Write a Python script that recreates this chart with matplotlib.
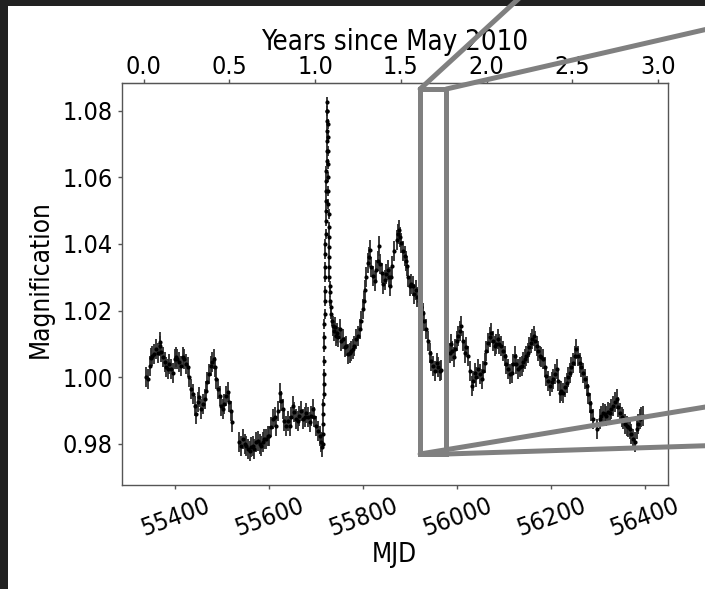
import numpy as np
import matplotlib
matplotlib.use("Agg")
import matplotlib.pyplot as plt
from matplotlib.patches import Rectangle, ConnectionPatch

# ---- data ----
# segment 1: first season (before the seasonal gap)
mjd_s1 = [55338, 55341, 55345, 55348, 55351, 55355, 55359, 55362, 55366, 55368,
          55370, 55373, 55377, 55380, 55383, 55387, 55391, 55394, 55398, 55401,
          55404, 55408, 55412, 55415, 55419, 55422, 55426, 55429, 55433, 55437,
          55441, 55444, 55447, 55451, 55455, 55458, 55462, 55465, 55468, 55472,
          55476, 55478, 55481, 55484, 55487, 55490, 55494, 55497, 55501, 55504,
          55508, 55511, 55515, 55518, 55521]
mag_s1 = [1.0000, 0.9995, 1.0034, 1.0058, 1.0064, 1.0070, 1.0084, 1.0072, 1.0105, 1.0095,
          1.0075, 1.0060, 1.0045, 1.0030, 1.0024, 1.0040, 1.0024, 1.0012, 1.0054, 1.0060,
          1.0054, 1.0045, 1.0034, 1.0060, 1.0054, 1.0040, 1.0030, 1.0000, 0.9964, 0.9950,
          0.9914, 0.9890, 0.9925, 0.9940, 0.9904, 0.9920, 0.9934, 0.9960, 0.9985, 1.0010,
          1.0034, 1.0045, 1.0054, 1.0030, 0.9994, 0.9965, 0.9944, 0.9915, 0.9904, 0.9920,
          0.9944, 0.9955, 0.9925, 0.9900, 0.9865]
# segment 2: low plateau up to the spike
mjd_s2 = [55536, 55539, 55543, 55547, 55551, 55554, 55558, 55561, 55565, 55568,
          55572, 55575, 55579, 55582, 55586, 55589, 55593, 55596, 55600, 55604,
          55607, 55611, 55615, 55618, 55622, 55625, 55629, 55632, 55636, 55639,
          55643, 55646, 55650, 55653, 55657, 55660, 55664, 55667, 55671, 55675,
          55679, 55682, 55686, 55689, 55693, 55696, 55700, 55703, 55707, 55710,
          55712]
mag_s2 = [0.9805, 0.9795, 0.9814, 0.9800, 0.9794, 0.9785, 0.9779, 0.9790, 0.9794, 0.9785,
          0.9805, 0.9810, 0.9800, 0.9795, 0.9805, 0.9815, 0.9814, 0.9825, 0.9824, 0.9850,
          0.9874, 0.9880, 0.9854, 0.9900, 0.9954, 0.9930, 0.9904, 0.9870, 0.9854, 0.9870,
          0.9854, 0.9880, 0.9914, 0.9895, 0.9874, 0.9870, 0.9884, 0.9900, 0.9874, 0.9880,
          0.9894, 0.9880, 0.9865, 0.9885, 0.9904, 0.9880, 0.9854, 0.9840, 0.9824, 0.9805,
          0.9790]
# segment 3: the spike (densely sampled, small errors)
mjd_spike = [55714.0, 55714.3, 55714.6, 55714.9, 55715.2, 55715.5, 55715.8, 55716.1, 55716.4, 55716.7,
             55717.0, 55717.3, 55717.6, 55717.9, 55718.2, 55718.5, 55718.8, 55719.1, 55719.4, 55719.7,
             55720.0, 55720.3, 55720.6, 55720.9, 55721.2, 55721.5, 55721.8, 55722.1, 55722.4, 55722.7,
             55723.0, 55723.2, 55723.4, 55723.7, 55724.0, 55724.3, 55724.6, 55724.9, 55725.2, 55725.5,
             55725.8, 55726.1, 55726.4, 55726.7, 55727.0, 55727.3, 55727.6, 55728.0, 55728.5, 55729.0,
             55730.0, 55731.0, 55732.0, 55733.5]
mag_spike = [0.9800, 0.9830, 0.9860, 0.9890, 0.9920, 0.9950, 0.9980, 1.0010, 1.0050, 1.0090,
             1.0120, 1.0160, 1.0190, 1.0230, 1.0260, 1.0300, 1.0330, 1.0370, 1.0400, 1.0430,
             1.0470, 1.0500, 1.0530, 1.0560, 1.0590, 1.0620, 1.0650, 1.0680, 1.0710, 1.0740,
             1.0770, 1.0800, 1.0826, 1.0800, 1.0760, 1.0720, 1.0680, 1.0640, 1.0600, 1.0560,
             1.0520, 1.0490, 1.0450, 1.0420, 1.0390, 1.0360, 1.0330, 1.0300, 1.0275, 1.0255,
             1.0230, 1.0210, 1.0190, 1.0170]
# segment 4: post-spike dip, second bump and decline
mjd_s4 = [55735, 55737, 55739, 55741, 55743, 55746, 55750, 55753, 55757, 55760,
          55764, 55767, 55771, 55774, 55778, 55781, 55785, 55788, 55792, 55795,
          55799, 55801, 55803, 55806, 55810, 55812, 55814, 55817, 55821, 55824,
          55828, 55831, 55834, 55836, 55839, 55842, 55846, 55849, 55853, 55855,
          55856, 55859, 55862, 55866, 55871, 55873, 55876, 55878, 55881, 55884,
          55888, 55890, 55893, 55896, 55899, 55902, 55906, 55909, 55912, 55915,
          55919, 55923, 55927, 55930, 55934, 55938, 55942, 55945, 55949, 55952,
          55956, 55959, 55963, 55966]
mag_s4 = [1.0154, 1.0140, 1.0150, 1.0125, 1.0134, 1.0120, 1.0144, 1.0110, 1.0114, 1.0090,
          1.0094, 1.0070, 1.0074, 1.0080, 1.0084, 1.0095, 1.0114, 1.0125, 1.0144, 1.0170,
          1.0204, 1.0230, 1.0263, 1.0300, 1.0343, 1.0360, 1.0383, 1.0330, 1.0303, 1.0290,
          1.0323, 1.0350, 1.0393, 1.0340, 1.0313, 1.0280, 1.0293, 1.0310, 1.0323, 1.0300,
          1.0273, 1.0300, 1.0333, 1.0380, 1.0413, 1.0430, 1.0443, 1.0420, 1.0403, 1.0380,
          1.0363, 1.0350, 1.0333, 1.0300, 1.0273, 1.0280, 1.0273, 1.0250, 1.0263, 1.0240,
          1.0230, 1.0210, 1.0194, 1.0170, 1.0144, 1.0110, 1.0074, 1.0050, 1.0034, 1.0020,
          1.0044, 1.0030, 1.0019, 1.0022]
# segment 5: last season
mjd_s5 = [55984, 55987, 55990, 55993, 55996, 55999, 56002, 56005, 56009, 56012,
          56016, 56019, 56023, 56027, 56031, 56034, 56038, 56041, 56045, 56048,
          56052, 56055, 56059, 56062, 56066, 56069, 56073, 56076, 56080, 56083,
          56087, 56090, 56094, 56098, 56102, 56105, 56109, 56112, 56116, 56119,
          56123, 56126, 56130, 56133, 56137, 56140, 56144, 56147, 56151, 56154,
          56158, 56160, 56163, 56166, 56169, 56172, 56176, 56179, 56183, 56186,
          56190, 56193, 56197, 56201, 56205, 56208, 56212, 56215, 56219, 56222,
          56226, 56229, 56233, 56236, 56240, 56243, 56247, 56250, 56254, 56257,
          56261, 56264, 56268, 56272, 56276, 56279, 56283, 56286, 56290, 56297,
          56304, 56307, 56311, 56314, 56318, 56321, 56325, 56328, 56332, 56336,
          56340, 56343, 56347, 56350, 56354, 56357, 56361, 56364, 56368, 56371,
          56375, 56378, 56382, 56385, 56389, 56392, 56396]
mag_s5 = [1.0074, 1.0100, 1.0080, 1.0060, 1.0084, 1.0110, 1.0124, 1.0140, 1.0154, 1.0110,
          1.0074, 1.0090, 1.0064, 1.0020, 0.9974, 0.9990, 1.0014, 1.0000, 1.0024, 1.0010,
          0.9994, 1.0020, 1.0044, 1.0080, 1.0104, 1.0120, 1.0134, 1.0110, 1.0094, 1.0100,
          1.0114, 1.0100, 1.0094, 1.0080, 1.0064, 1.0040, 1.0024, 1.0010, 1.0014, 1.0040,
          1.0064, 1.0040, 1.0024, 1.0030, 1.0034, 1.0045, 1.0054, 1.0065, 1.0074, 1.0090,
          1.0104, 1.0115, 1.0124, 1.0110, 1.0094, 1.0080, 1.0064, 1.0060, 1.0054, 1.0030,
          1.0004, 0.9990, 0.9974, 0.9985, 0.9994, 1.0010, 1.0024, 0.9990, 0.9954, 0.9960,
          0.9954, 0.9970, 0.9984, 1.0000, 1.0014, 1.0030, 1.0044, 1.0065, 1.0084, 1.0065,
          1.0044, 1.0030, 1.0014, 0.9995, 0.9974, 0.9950, 0.9924, 0.9900, 0.9874, 0.9844,
          0.9874, 0.9885, 0.9894, 0.9890, 0.9884, 0.9895, 0.9894, 0.9905, 0.9914, 0.9925,
          0.9934, 0.9910, 0.9894, 0.9880, 0.9874, 0.9860, 0.9854, 0.9850, 0.9844, 0.9830,
          0.9814, 0.9805, 0.9844, 0.9860, 0.9874, 0.9880, 0.9884]

error = 0.003            # typical 1-sigma error bar
spike_error = 0.0015     # smaller error bars on the spike

mjd_ticks = [55400, 55600, 55800, 56000, 56200, 56400]
year_ticks = [0.0, 0.5, 1.0, 1.5, 2.0, 2.5, 3.0]
mag_ticks = [0.98, 1.00, 1.02, 1.04, 1.06, 1.08]
mjd_start = 55332        # "May 2010" reference epoch
zoom_box = (55921, 55977, 0.977, 1.0865)   # x0, x1, y0, y1

# ---- figure ----
W, H = 705, 589
TICK_FONT = dict(family="DejaVu Sans", stretch="condensed", size=18)
LABEL_FONT = dict(family="DejaVu Sans", stretch="condensed", size=18.8)
TITLE_FONT = dict(family="DejaVu Sans", stretch="condensed", size=19.8)
plt.rcParams["font.family"] = "DejaVu Sans"
plt.rcParams["font.stretch"] = "condensed"

fig = plt.figure(figsize=(W / 100, H / 100), dpi=100)
fig.patch.set_facecolor("white")
AX_L, AX_R, AX_T, AX_B = 121.5, 668, 83, 485
ax = fig.add_axes([AX_L / W, 1 - AX_B / H, (AX_R - AX_L) / W, (AX_B - AX_T) / H])

def ax_frac_x(px):
    return (px - AX_L) / (AX_R - AX_L)

def ax_frac_y(py):
    return (AX_B - py) / (AX_B - AX_T)

normal_x = np.array(mjd_s1 + mjd_s2 + mjd_s4 + mjd_s5, dtype=float)
normal_y = np.array(mag_s1 + mag_s2 + mag_s4 + mag_s5)
ax.errorbar(normal_x, normal_y, yerr=error, fmt="o", ms=2.0, color="black",
            ecolor="#2b2b2b", elinewidth=1.3, capsize=0, zorder=3)
ax.errorbar(mjd_spike, mag_spike, yerr=spike_error, fmt="o", ms=2.0, color="black",
            ecolor="#2b2b2b", elinewidth=1.3, capsize=0, zorder=3)

ax.set_xlim(55285, 56449)
ax.set_ylim(0.9677, 1.0883)
ax.set_xticks(mjd_ticks)
ax.set_xticklabels([str(t) for t in mjd_ticks], rotation=20, fontdict=TICK_FONT)
ax.set_yticks(mag_ticks)
ax.set_yticklabels([f"{t:.2f}" for t in mag_ticks], fontdict=TICK_FONT)
ax.set_xlabel("MJD", fontdict=LABEL_FONT)
ax.xaxis.set_label_coords(0.5, ax_frac_y(542))
ax.set_ylabel("Magnification", fontdict=LABEL_FONT)
ax.yaxis.set_label_coords(ax_frac_x(54), ax_frac_y(279))
for s in ax.spines.values():
    s.set_color("#555555")
    s.set_linewidth(1.0)
ax.tick_params(colors="#555555", labelcolor="black", length=3, width=1, pad=3.5)

sec = ax.secondary_xaxis("top", functions=(lambda m: (m - mjd_start) / 365.25,
                                           lambda y: y * 365.25 + mjd_start))
sec.set_xticks(year_ticks)
sec.set_xticklabels([f"{t:.1f}" for t in year_ticks], fontdict=TICK_FONT)
sec.set_xlabel("Years since May 2010", fontdict=TITLE_FONT)
sec.xaxis.set_label_coords(0.5, ax_frac_y(50), transform=ax.transAxes)
sec.spines["top"].set_color("#555555")
sec.tick_params(colors="#555555", labelcolor="black", length=3, width=1, pad=0.0)

# zoom indicator rectangle and connector lines
x0, x1, y0, y1 = zoom_box
gray = "#808080"
ax.add_patch(Rectangle((x0, y0), x1 - x0, y1 - y0, fill=False, edgecolor=gray,
                       linewidth=3.6, zorder=5, clip_on=False))
ends = [((x0, y1), (539 / W, 1 + 20 / H)),
        ((x1, y1), (760 / W, 1 - 17 / H)),
        ((x0, y0), (760 / W, 1 - 398 / H)),
        ((x1, y0), (760 / W, 1 - 444 / H))]
for a, b in ends:
    cp = ConnectionPatch(xyA=a, coordsA=ax.transData, xyB=b, coordsB=fig.transFigure,
                         color=gray, linewidth=3.6, zorder=6)
    fig.add_artist(cp)

# dark frame bands of the surrounding page
fig.add_artist(Rectangle((0, 1 - 6 / H), 1, 6 / H, transform=fig.transFigure,
                         facecolor="#212121", edgecolor="none", zorder=1))
fig.add_artist(Rectangle((0, 0), 8 / W, 1, transform=fig.transFigure,
                         facecolor="#212121", edgecolor="none", zorder=1))

fig.savefig("out.png", dpi=100, facecolor="white")
